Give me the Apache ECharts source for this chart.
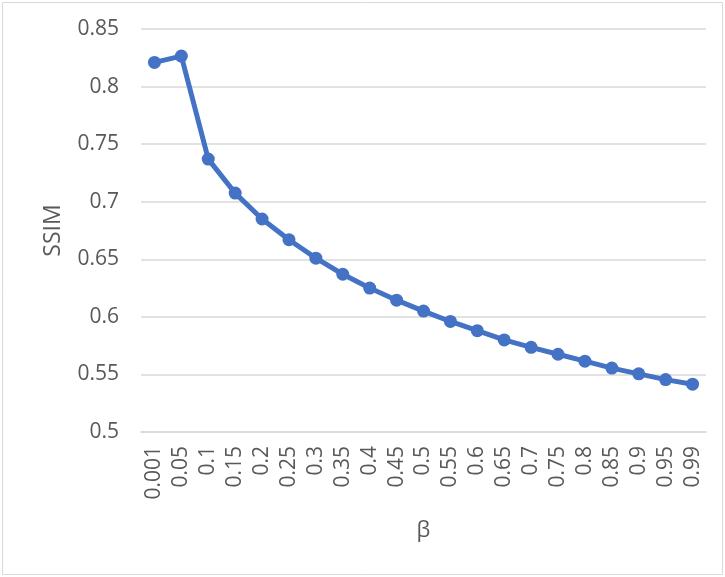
<!DOCTYPE html>
<html><head><meta charset="utf-8">
<script src="https://cdn.jsdelivr.net/npm/echarts@6/dist/echarts.min.js"></script>
<style>html,body{margin:0;padding:0;background:#fff}#c{width:725px;height:577px}</style>
</head><body><div id="c"></div>
<script>
const categories = ['0.001','0.05','0.1','0.15','0.2','0.25','0.3','0.35','0.4','0.45','0.5','0.55','0.6','0.65','0.7','0.75','0.8','0.85','0.9','0.95','0.99'];
const ssim = [0.821,0.8265,0.737,0.7075,0.685,0.667,0.651,0.637,0.625,0.6145,0.605,0.596,0.588,0.580,0.5735,0.5675,0.5615,0.5555,0.5505,0.5455,0.5415];
const yTicks = {min:0.5, max:0.85, interval:0.05};
const chart = echarts.init(document.getElementById('c'));
const font = 'Open Sans, Noto Sans, sans-serif';
chart.setOption({
  animation:false,
  graphic:[{type:'rect',shape:{x:2.5,y:2.5,width:720,height:572},style:{fill:'none',stroke:'#d9d9d9',lineWidth:1},silent:true}],
  grid:{left:141,right:19,top:29,bottom:145},
  xAxis:{type:'category',data:categories,boundaryGap:true,
    name:'β',nameLocation:'middle',nameGap:88,nameTextStyle:{color:'#595959',fontSize:22,fontFamily:font},
    axisLine:{show:true,lineStyle:{color:'#d9d9d9',width:1.5}},axisTick:{show:false},
    axisLabel:{rotate:90,color:'#595959',fontSize:21,fontFamily:font,margin:14,interval:0}},
  yAxis:{type:'value',min:yTicks.min,max:yTicks.max,interval:yTicks.interval,
    name:'SSIM',nameLocation:'middle',nameGap:76,nameTextStyle:{color:'#595959',fontSize:23,fontFamily:font},
    axisLine:{show:false},axisTick:{show:false},
    splitLine:{lineStyle:{color:'#d9d9d9',width:1.5}},
    axisLabel:{color:'#595959',fontSize:21,fontFamily:font,margin:22,formatter:v=>String(+v.toFixed(2))}},
  series:[{type:'line',data:ssim,symbol:'circle',symbolSize:13,
    lineStyle:{color:'#4472C4',width:5},itemStyle:{color:'#4472C4'}}]
});
</script></body></html>
